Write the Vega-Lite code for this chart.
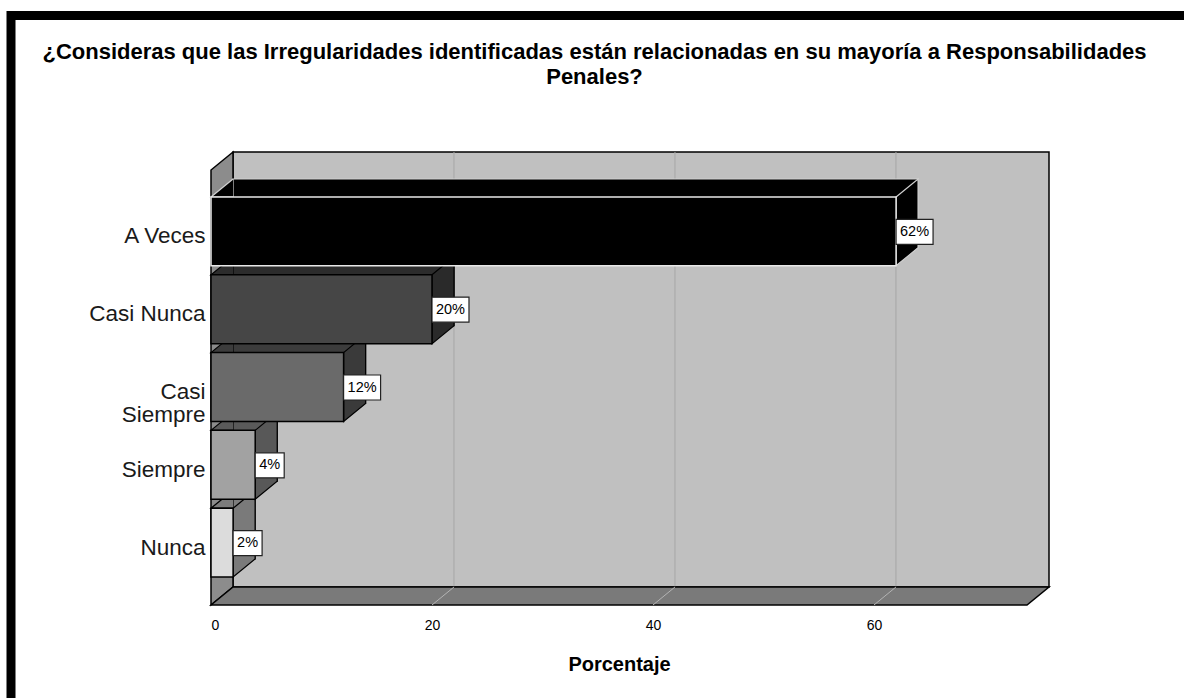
{
  "$schema": "https://vega.github.io/schema/vega-lite/v6.json",
  "autosize": {"type": "none"},
  "padding": {"left": 11, "top": 15.5, "right": 0, "bottom": 0},
  "width": 1173,
  "height": 682.5,
  "background": "white",
  "config": {
    "view": {"stroke": "black", "strokeWidth": 9, "strokeDash": [1168.5, 1860, 687], "strokeCap": "square", "fill": "white"},
    "font": "Liberation Sans",
    "title": {"font": "Liberation Sans", "fontSize": 22, "fontWeight": "bold", "color": "black", "anchor": "middle", "frame": "group", "baseline": "top", "lineHeight": 24.5, "offset": -73, "dx": -3}
  },
  "title": {"text": ["¿Consideras que las Irregularidades identificadas están relacionadas en su mayoría a Responsabilidades", "Penales?"]},
  "layer": [
    {
      "layer": [
        {
          "data": {"values": [{"part": "back wall"}]},
          "mark": {"type": "rect", "fill": "#c0c0c0", "stroke": "black", "strokeWidth": 1.5, "xOffset": 22, "x2Offset": 22, "yOffset": -18, "y2Offset": -18},
          "encoding": {
            "x": {"datum": 0, "type": "quantitative", "scale": {"domain": [0, 73.85], "range": [200, 1016], "nice": false, "zero": false},
                  "axis": {"orient": "bottom", "offset": -93, "values": [0, 20, 40, 60], "domain": false, "ticks": false, "grid": false, "labelPadding": 13, "labelFontSize": 14, "labelColor": "black", "labelFont": "Liberation Sans", "title": "Porcentaje", "titleFontSize": 20, "titleFontWeight": "bold", "titleColor": "black", "titleFont": "Liberation Sans", "titlePadding": 22}},
            "x2": {"datum": 73.85},
            "y": {"datum": 0, "type": "quantitative", "scale": {"domain": [0, 1], "range": [589.5, 154.5], "nice": false, "zero": false}, "axis": null},
            "y2": {"datum": 1}
          }
        },
        {
          "data": {"values": [{"tick": 20}, {"tick": 40}, {"tick": 60}]},
          "mark": {"type": "rule", "stroke": "#a6a6a6", "strokeWidth": 1, "xOffset": 22, "yOffset": -18, "y2Offset": -18},
          "encoding": {
            "x": {"field": "tick", "type": "quantitative"},
            "y": {"datum": 0, "type": "quantitative"},
            "y2": {"datum": 1}
          }
        },
        {
          "data": {"values": [{"part": "left wall"}]},
          "mark": {"type": "point", "shape": "M0,0L0,-435L22,-453L22,-18Z", "size": 4, "filled": true, "opacity": 1, "fill": "#8c8c8c", "stroke": "black", "strokeWidth": 1.5},
          "encoding": {
            "x": {"datum": 0, "type": "quantitative"},
            "y": {"datum": 0, "type": "quantitative"}
          }
        },
        {
          "data": {"values": [{"part": "floor"}]},
          "mark": {"type": "point", "shape": "M0,0L22,-18L838,-18L816,0Z", "size": 4, "filled": true, "opacity": 1, "fill": "#7a7a7a", "stroke": "black", "strokeWidth": 1.5},
          "encoding": {
            "x": {"datum": 0, "type": "quantitative"},
            "y": {"datum": 0, "type": "quantitative"}
          }
        },
        {
          "data": {"values": [{"tick": 20}, {"tick": 40}, {"tick": 60}]},
          "mark": {"type": "rule", "stroke": "#b4b4b4", "strokeWidth": 1, "x2Offset": 22, "y2Offset": -18},
          "encoding": {
            "x": {"field": "tick", "type": "quantitative"},
            "x2": {"field": "tick"},
            "y": {"datum": 0, "type": "quantitative"},
            "y2": {"datum": 0}
          }
        }
      ]
    },
    {
      "data": {"values": [
        {"cat": "Nunca", "pct": 2, "label": "2%"},
        {"cat": "Siempre", "pct": 4, "label": "4%"},
        {"cat": "Casi Siempre", "pct": 12, "label": "12%"},
        {"cat": "Casi Nunca", "pct": 20, "label": "20%"},
        {"cat": "A Veces", "pct": 62, "label": "62%"}
      ]},
      "encoding": {
        "y": {"field": "cat", "type": "nominal", "sort": ["A Veces", "Casi Nunca", "Casi Siempre", "Siempre", "Nunca"],
              "scale": {"range": [181.5, 561.5], "paddingInner": 0.115, "paddingOuter": 0},
              "axis": {"orient": "left", "offset": -200, "title": null, "domain": false, "ticks": false, "grid": false, "labelPadding": 6, "labelOffset": 5, "labelFontSize": 22.5, "labelColor": "#1a1a1a", "labelFont": "Liberation Sans", "labelLimit": 0, "labelLineHeight": 23,
                       "labelExpr": "datum.label == 'Casi Siempre' ? ['Casi', 'Siempre'] : datum.label"}},
        "x": {"field": "pct", "type": "quantitative"}
      },
      "layer": [
        {
          "mark": {"type": "bar", "xOffset": 22, "x2Offset": 22, "yOffset": -18, "y2Offset": -18, "strokeWidth": 1.2},
          "encoding": {
            "fill": {"field": "cat", "type": "nominal", "legend": null, "scale": {"domain": ["A Veces", "Casi Nunca", "Casi Siempre", "Siempre", "Nunca"], "range": ["#000000", "#2c2c2c", "#3c3c3c", "#5a5a5a", "#7c7c7c"]}},
            "stroke": {"condition": {"test": "datum.cat === 'A Veces'", "value": "#d0d0d0"}, "value": "black"}
          }
        },
        {
          "mark": {"type": "point", "shape": "M22,-34.4L0,-34.4L22,-52.4", "size": 4, "filled": true, "opacity": 1, "strokeWidth": 1.2},
          "encoding": {
            "x": {"datum": 0, "type": "quantitative"},
            "fill": {"field": "cat", "type": "nominal", "legend": null, "scale": {"domain": ["A Veces", "Casi Nunca", "Casi Siempre", "Siempre", "Nunca"], "range": ["#000000", "#2c2c2c", "#3c3c3c", "#5a5a5a", "#7c7c7c"]}},
            "stroke": {"condition": {"test": "datum.cat === 'A Veces'", "value": "#d0d0d0"}, "value": "black"}
          }
        },
        {
          "mark": {"type": "point", "shape": "M0,-34.4L22,-52.4L22,16.4L0,34.4Z", "size": 4, "filled": true, "opacity": 1, "strokeWidth": 1.2},
          "encoding": {
            "fill": {"field": "cat", "type": "nominal", "legend": null, "scale": {"domain": ["A Veces", "Casi Nunca", "Casi Siempre", "Siempre", "Nunca"], "range": ["#000000", "#2a2a2a", "#3a3a3a", "#585858", "#7a7a7a"]}},
            "stroke": {"condition": {"test": "datum.cat === 'A Veces'", "value": "#d0d0d0"}, "value": "black"}
          }
        },
        {
          "mark": {"type": "bar", "strokeWidth": 1.5},
          "encoding": {
            "fill": {"field": "cat", "type": "nominal", "legend": null, "scale": {"domain": ["A Veces", "Casi Nunca", "Casi Siempre", "Siempre", "Nunca"], "range": ["#000000", "#464646", "#6a6a6a", "#a2a2a2", "#dcdcdc"]}},
            "stroke": {"condition": {"test": "datum.cat === 'A Veces'", "value": "#e8e8e8"}, "value": "black"}
          }
        },
        {
          "transform": [{"filter": "datum.pct >= 10"}],
          "mark": {"type": "point", "shape": "M0,-12L37,-12L37,13L0,13Z", "size": 4, "filled": true, "opacity": 1, "fill": "white", "stroke": "#222222", "strokeWidth": 1.2}
        },
        {
          "transform": [{"filter": "datum.pct < 10"}],
          "mark": {"type": "point", "shape": "M0,-12L29,-12L29,13L0,13Z", "size": 4, "filled": true, "opacity": 1, "fill": "white", "stroke": "#222222", "strokeWidth": 1.2}
        },
        {
          "transform": [{"filter": "datum.pct >= 10"}],
          "mark": {"type": "text", "dx": 18.5, "dy": 0.5, "align": "center", "baseline": "middle", "fontSize": 14.5, "font": "Liberation Sans", "fill": "black"},
          "encoding": {"text": {"field": "label"}}
        },
        {
          "transform": [{"filter": "datum.pct < 10"}],
          "mark": {"type": "text", "dx": 14.5, "dy": 0.5, "align": "center", "baseline": "middle", "fontSize": 14.5, "font": "Liberation Sans", "fill": "black"},
          "encoding": {"text": {"field": "label"}}
        }
      ],
      "resolve": {"scale": {"fill": "independent"}}
    }
  ],
  "resolve": {"scale": {"y": "independent"}}
}
